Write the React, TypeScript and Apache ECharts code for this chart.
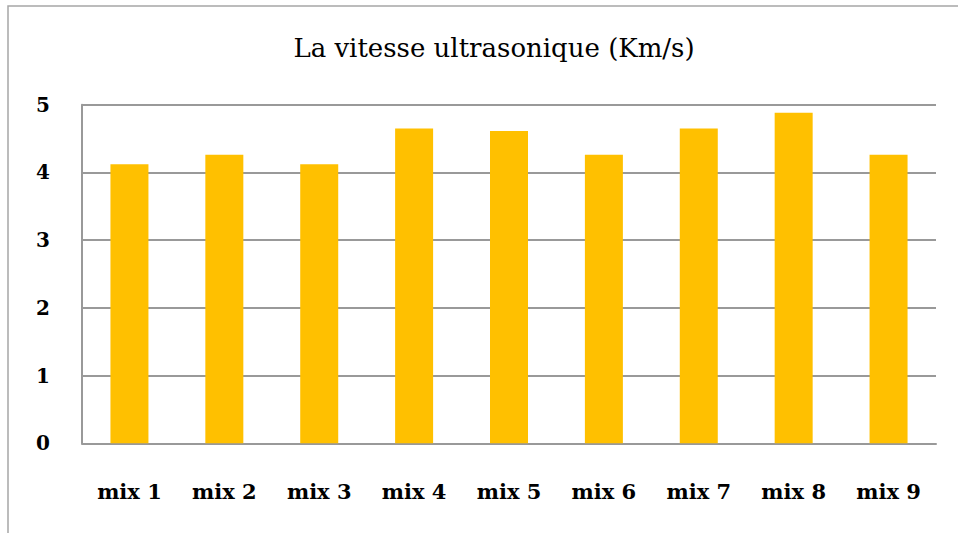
import React, { useEffect, useRef } from "react";
import * as echarts from "echarts";

const title = "La vitesse ultrasonique (Km/s)";
const categories = ["mix 1", "mix 2", "mix 3", "mix 4", "mix 5", "mix 6", "mix 7", "mix 8", "mix 9"];
const values = [4.12, 4.26, 4.12, 4.65, 4.61, 4.26, 4.65, 4.88, 4.26];
const yTicks = [0, 1, 2, 3, 4, 5];

const FONT = "DejaVu Serif";

export default function App() {
  const ref = useRef<HTMLDivElement>(null);
  useEffect(() => {
    if (!ref.current) return;
    const chart = echarts.init(ref.current, null, { renderer: "svg" });
    chart.setOption({
      animation: false,
      backgroundColor: "#ffffff",
      title: {
        text: title,
        left: 489,
        textAlign: "center",
        top: 30,
        textStyle: { fontFamily: FONT, fontSize: 26, fontWeight: "normal", color: "#000" },
      },
      graphic: [
        {
          type: "rect",
          shape: { x: 8, y: 6, width: 960, height: 540 },
          style: { fill: "none", stroke: "#a6a6a6", lineWidth: 1.5 },
          silent: true,
        },
      ],
      grid: { left: 82, right: 22, top: 104.7, bottom: 533 - 443.3, containLabel: false },
      xAxis: {
        type: "category",
        data: categories,
        axisLine: { show: true, lineStyle: { color: "#999999", width: 2 } },
        axisTick: { show: false },
        axisLabel: {
          margin: 38,
          fontFamily: FONT,
          fontWeight: "bold",
          fontSize: 21,
          color: "#000",
        },
      },
      yAxis: {
        type: "value",
        min: yTicks[0],
        max: yTicks[yTicks.length - 1],
        interval: 1,
        axisLine: { show: true, lineStyle: { color: "#999999", width: 2 } },
        axisTick: { show: false },
        splitLine: { show: true, lineStyle: { color: "#999999", width: 2 } },
        axisLabel: {
          margin: 32,
          fontFamily: FONT,
          fontWeight: "bold",
          fontSize: 20,
          color: "#000",
        },
      },
      series: [
        {
          type: "bar",
          data: values,
          barWidth: 38,
          itemStyle: { color: "#FFC000" },
        },
      ],
    });
    return () => chart.dispose();
  }, []);
  return <div ref={ref} style={{ position: "fixed", left: 0, top: 0, width: 958, height: 533 }} />;
}
